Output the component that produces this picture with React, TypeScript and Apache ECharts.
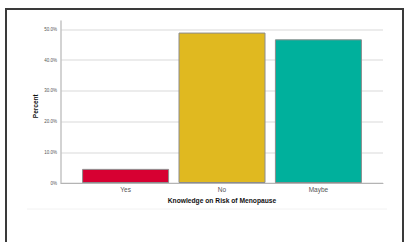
import React, { useEffect, useRef } from "react";
import * as echarts from "echarts";

const categories = ["Yes", "No", "Maybe"];
const percents = [4.6, 49.0, 46.8];
const barColors = ["#d70032", "#e0b920", "#00b09c"];
const yTicks = [0, 10, 20, 30, 40, 50];

export default function App() {
  const ref = useRef<HTMLDivElement>(null);
  useEffect(() => {
    if (!ref.current) return;
    const chart = echarts.init(ref.current, undefined, { renderer: "svg" });
    const font = "'Liberation Sans', Arial, sans-serif";
    chart.setOption({
      animation: false,
      backgroundColor: "#ffffff",
      graphic: [
        {
          type: "rect",
          shape: { x: 6, y: 9, width: 397, height: 300 },
          style: { fill: "none", stroke: "#3a3a3a", lineWidth: 2 },
          silent: true,
        },
        {
          type: "line",
          shape: { x1: 27, y1: 209, x2: 387, y2: 209 },
          style: { stroke: "#f2f2f2", lineWidth: 1 },
          silent: true,
        },
      ],
      grid: [
        { left: 61, right: 23, top: 29.5, bottom: 59 },
        { left: 61, right: 23, top: 21, bottom: 59 },
      ],
      xAxis: [
        {
          type: "value",
          gridIndex: 0,
          min: -0.67,
          max: 2.67,
          splitLine: { show: false },
          axisTick: { show: false },
          axisLine: { show: true, lineStyle: { color: "#b4b4b4", width: 1 } },
          axisLabel: {
            customValues: categories.map((_, i) => i),
            formatter: (v: number) => categories[Math.round(v)] ?? "",
            fontSize: 6.5,
            color: "#555555",
            fontFamily: font,
            margin: 3,
          },
          name: "Knowledge on Risk of Menopause",
          nameLocation: "middle",
          nameGap: 14,
          nameMoveOverlap: false,
          nameTextStyle: { fontSize: 6.7, fontWeight: "bold", color: "#111", fontFamily: font },
        },
        { type: "value", gridIndex: 1, show: false, min: 0, max: 1 },
      ],
      yAxis: [
        {
          type: "value",
          gridIndex: 0,
          min: 0,
          max: 50,
          interval: 10,
          axisLine: { show: false },
          axisTick: { show: false },
          splitLine: { show: true, lineStyle: { color: "#e6e6e6", width: 1.5 } },
          axisLabel: {
            customValues: yTicks,
            formatter: (v: number) => (v === 0 ? "0%" : v.toFixed(1) + "%"),
            fontSize: 4.5,
            color: "#555555",
            fontFamily: font,
            margin: 4,
          },
          name: "Percent",
          nameLocation: "middle",
          nameGap: 22,
          nameMoveOverlap: false,
          nameTextStyle: { fontSize: 6.5, fontWeight: "bold", color: "#111", fontFamily: font },
        },
        {
          type: "value",
          gridIndex: 1,
          min: 0,
          max: 1,
          axisLine: { show: true, lineStyle: { color: "#c4c4c4", width: 1.5 } },
          axisTick: { show: false },
          axisLabel: { show: false },
          splitLine: { show: false },
        },
      ],
      series: [
        {
          type: "bar",
          xAxisIndex: 0,
          yAxisIndex: 0,
          barWidth: 87,
          data: percents.map((p, i) => ({
            value: [i, p],
            itemStyle: { color: barColors[i], borderColor: "#8c8c8c", borderWidth: 1 },
          })),
        },
      ],
    });
    return () => chart.dispose();
  }, []);
  return (
    <div
      ref={ref}
      style={{ position: "absolute", left: 0, top: 0, width: 406, height: 242 }}
    />
  );
}
